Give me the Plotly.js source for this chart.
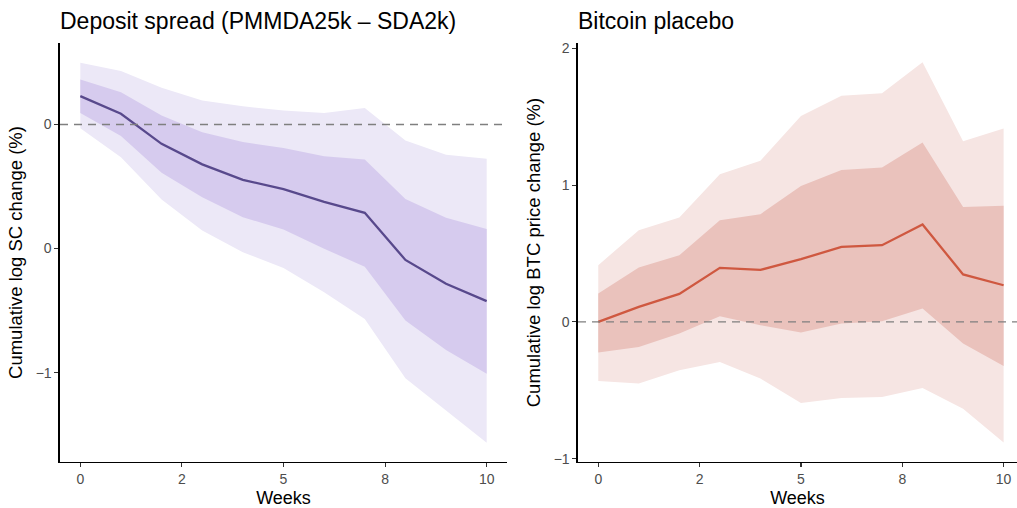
<!DOCTYPE html>
<html>
<head>
<meta charset="utf-8">
<script src="https://cdn.plot.ly/plotly-3.0.1.min.js"></script>
<style>html,body{margin:0;padding:0;background:#fff;}#chart{width:1017px;height:508px;}</style>
</head>
<body>
<div id="chart"></div>
<script>
// Week index
const weeks = [0, 1, 2, 3, 4, 5, 6, 7, 8, 9, 10];
const xTickVals = [0, 2.5, 5, 7.5, 10];
const xTickText = ["0", "2", "5", "8", "10"];

// Left panel: Deposit spread
const depMean    = [0.114, 0.043, -0.078, -0.161, -0.223, -0.261, -0.312, -0.356, -0.546, -0.642, -0.712];
const depInnerHi = [0.181, 0.130, 0.036, -0.031, -0.071, -0.095, -0.128, -0.141, -0.300, -0.376, -0.421];
const depInnerLo = [0.046, -0.047, -0.195, -0.293, -0.374, -0.423, -0.501, -0.573, -0.790, -0.909, -1.005];
const depOuterHi = [0.249, 0.215, 0.148, 0.097, 0.073, 0.056, 0.046, 0.066, -0.065, -0.122, -0.138];
const depOuterLo = [-0.015, -0.132, -0.302, -0.427, -0.515, -0.578, -0.676, -0.784, -1.023, -1.153, -1.283];
const depYTickVals = [0, -0.5, -1];
const depYTickText = ["0", "0", "\u22121"];

// Right panel: Bitcoin placebo
const btcMean    = [0.0, 0.11, 0.205, 0.395, 0.38, 0.459, 0.548, 0.561, 0.712, 0.347, 0.268];
const btcInnerHi = [0.208, 0.398, 0.488, 0.744, 0.788, 0.993, 1.110, 1.129, 1.312, 0.841, 0.849];
const btcInnerLo = [-0.224, -0.183, -0.085, 0.042, -0.024, -0.078, -0.012, 0.005, 0.098, -0.158, -0.322];
const btcOuterHi = [0.415, 0.671, 0.764, 1.080, 1.178, 1.505, 1.653, 1.671, 1.898, 1.320, 1.415];
const btcOuterLo = [-0.432, -0.451, -0.353, -0.293, -0.414, -0.593, -0.556, -0.549, -0.483, -0.634, -0.882];
const btcYTickVals = [2, 1, 0, -1];
const btcYTickText = ["2", "1", "0", "\u22121"];

function band(lo, hi, color, xa, ya) {
  return [
    {x: weeks, y: lo, type: 'scatter', mode: 'lines', line: {width: 0, color: color}, xaxis: xa, yaxis: ya, hoverinfo: 'skip', showlegend: false},
    {x: weeks, y: hi, type: 'scatter', mode: 'lines', line: {width: 0, color: color}, fill: 'tonexty', fillcolor: color, xaxis: xa, yaxis: ya, hoverinfo: 'skip', showlegend: false}
  ];
}

const traces = [].concat(
  band(depOuterLo, depOuterHi, '#ece8f7', 'x', 'y'),
  band(depInnerLo, depInnerHi, '#d6cbee', 'x', 'y'),
  [{x: weeks, y: depMean, type: 'scatter', mode: 'lines', line: {color: '#58498c', width: 2.3}, xaxis: 'x', yaxis: 'y', showlegend: false}],
  band(btcOuterLo, btcOuterHi, '#f6e5e3', 'x2', 'y2'),
  band(btcInnerLo, btcInnerHi, '#eac2bc', 'x2', 'y2'),
  [{x: weeks, y: btcMean, type: 'scatter', mode: 'lines', line: {color: '#cf5840', width: 2.3}, xaxis: 'x2', yaxis: 'y2', showlegend: false}]
);

const W = 1017, H = 508;
const yDom = [(H - 461.7) / H, (H - 43.3) / H];
const font = {family: 'Liberation Sans, Arial, sans-serif'};

function xAxis(dom, range, anchor) {
  return {
    domain: dom, range: range, anchor: anchor,
    tickvals: xTickVals, ticktext: xTickText,
    ticks: 'outside', ticklen: 4, tickwidth: 1.1, tickcolor: '#333',
    showline: true, linecolor: '#000', linewidth: 1.6,
    showgrid: false, zeroline: false,
    tickfont: {family: font.family, size: 14, color: '#4d4d4d'},
    title: {text: 'Weeks', font: {family: font.family, size: 18, color: '#000'}, standoff: 5}
  };
}
function yAxis(range, anchor, tv, tt, title) {
  return {
    domain: yDom, range: range, anchor: anchor,
    tickvals: tv, ticktext: tt,
    ticks: 'outside', ticklen: 4, tickwidth: 1.1, tickcolor: '#333',
    showline: true, linecolor: '#000', linewidth: 1.6,
    showgrid: false, zeroline: false,
    tickfont: {family: font.family, size: 14, color: '#4d4d4d'},
    title: {text: title, font: {family: font.family, size: 18.5, color: '#000'}, standoff: 8}
  };
}

const layout = {
  width: W, height: H,
  margin: {l: 0, r: 0, t: 0, b: 0},
  paper_bgcolor: '#fff', plot_bgcolor: '#fff',
  showlegend: false,
  xaxis: xAxis([60 / W, 507 / W], [-0.5, 10.5], 'y'),
  yaxis: yAxis([-1.359, 0.327], 'x', depYTickVals, depYTickText, 'Cumulative log SC change (%)'),
  xaxis2: xAxis([578 / W, 1], [-0.5, 10.33], 'y2'),
  yaxis2: yAxis([-1.022, 2.037], 'x2', btcYTickVals, btcYTickText, 'Cumulative log BTC price change (%)'),
  shapes: [
    {type: 'line', xref: 'x domain', yref: 'y', x0: 0, x1: 1, y0: 0, y1: 0, line: {color: '#7f7f7f', width: 1.4, dash: '8px,6px'}, layer: 'above'},
    {type: 'line', xref: 'x2 domain', yref: 'y2', x0: 0, x1: 1, y0: 0, y1: 0, line: {color: '#7f7f7f', width: 1.4, dash: '8px,6px'}, layer: 'above'}
  ],
  annotations: [
    {text: 'Deposit spread (PMMDA25k \u2013 SDA2k)', xref: 'paper', yref: 'paper', x: 58 / W, y: (H - 36) / H, xanchor: 'left', yanchor: 'bottom', showarrow: false, font: {family: font.family, size: 23, color: '#000'}},
    {text: 'Bitcoin placebo', xref: 'paper', yref: 'paper', x: 576 / W, y: (H - 36) / H, xanchor: 'left', yanchor: 'bottom', showarrow: false, font: {family: font.family, size: 23, color: '#000'}}
  ]
};

Plotly.newPlot('chart', traces, layout, {displayModeBar: false, staticPlot: true});
</script>
</body>
</html>
